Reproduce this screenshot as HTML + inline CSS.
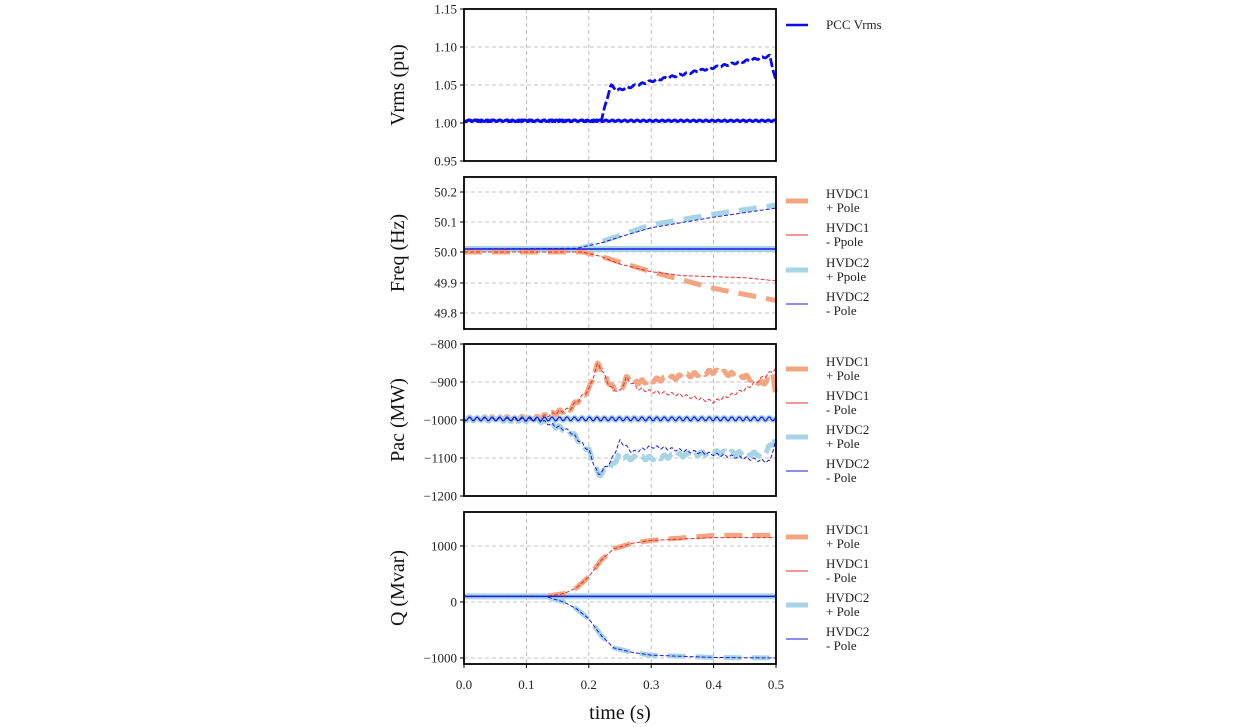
<!DOCTYPE html>
<html><head><meta charset="utf-8"><style>
html,body{margin:0;padding:0;background:#fff}
svg{display:block;font-family:"Liberation Serif",serif}
</style></head><body>
<svg id="s" width="1260" height="727" viewBox="0 0 1260 727" xmlns="http://www.w3.org/2000/svg">
<g id="grid" stroke="#b0b0b0" stroke-width="0.8" stroke-dasharray="4,3" fill="none"></g>
<g id="data" fill="none"></g>
<g id="frames" fill="none" stroke="#000" stroke-width="1.8"></g>
<g id="txt" font-size="13" fill="#222"></g>
<g id="leg"></g>
<g font-size="20" fill="#111">
<text x="620" y="719" text-anchor="middle">time (s)</text>
<text transform="translate(404,85) rotate(-90)" text-anchor="middle">Vrms (pu)</text>
<text transform="translate(404,253) rotate(-90)" text-anchor="middle">Freq (Hz)</text>
<text transform="translate(404,420) rotate(-90)" text-anchor="middle">Pac (MW)</text>
<text transform="translate(404,588) rotate(-90)" text-anchor="middle">Q (Mvar)</text>
</g>
</svg>
<script>
var NS="http://www.w3.org/2000/svg";
function el(p,t,a,tx){var e=document.createElementNS(NS,t);for(var k in a)e.setAttribute(k,a[k]);if(tx!==undefined)e.textContent=tx;document.getElementById(p).appendChild(e);return e;}
var X0=464,X1=776;function X(t){return X0+t*624;}
var panels=[{top:9,bot:161},{top:177,bot:329},{top:344,bot:496},{top:512,bot:664}];
var yt=[[[1.15,9],[1.10,47],[1.05,85],[1.00,123],[0.95,161]],
[[50.2,192],[50.1,222],[50.0,252],[49.9,283],[49.8,313]],
[["\u2212800",344],["\u2212900",382],["\u22121000",420],["\u22121100",458],["\u22121200",496]],
[[1000,546],[0,602],["\u22121000",658]]];
panels.forEach(function(p,i){
 for(var k=1;k<5;k++)el("grid","line",{x1:X(k*0.1),x2:X(k*0.1),y1:p.top,y2:p.bot});
 yt[i].forEach(function(v){var lab=typeof v[0]=="number"&&i<2?v[0].toFixed(i==0?2:1):v[0];
  if(v[1]>p.top+1&&v[1]<p.bot-1)el("grid","line",{x1:X0,x2:X1,y1:v[1],y2:v[1]});
  el("frames","line",{x1:X0-4,x2:X0,y1:v[1],y2:v[1],"stroke-width":1});
  el("txt","text",{x:X0-7,y:v[1]+4.5,"text-anchor":"end"},lab);});
 el("frames","rect",{x:X0,y:p.top,width:X1-X0,height:p.bot-p.top});
});
for(var k=0;k<=5;k++){el("frames","line",{x1:X(k*0.1),x2:X(k*0.1),y1:664,y2:668,"stroke-width":1});el("txt","text",{x:X(k*0.1),y:689,"text-anchor":"middle"},(k/10).toFixed(1));}
function interp(pts,t){for(var i=1;i<pts.length;i++){if(t<=pts[i][0]){var a=pts[i-1],b=pts[i],f=(t-a[0])/(b[0]-a[0]);return a[1]+(b[1]-a[1])*f;}}return pts[pts.length-1][1];}
function path(pts,fy,wig,per){var d="";for(var t=0;t<=0.5001;t+=0.002){var v=fy(interp(pts,t))+(wig?wig*Math.sin(t/(per||0.012)*6.283):0);d+=(d?"L":"M")+X(t).toFixed(1)+","+v.toFixed(1);}return d;}
function line(d,c,w,dash,op){var a={d:d,stroke:c,"stroke-width":w,"stroke-linejoin":"round"};if(dash)a["stroke-dasharray"]=dash;if(op)a.opacity=op;el("data","path",a);}
var BL="#1a1ae6",OR="#f4a582",RD="#e03030",LB="#a8d5e5";
var y1=function(v){return 123-(v-1)*760;};
line(path([[0,1.003],[0.5,1.003]],y1,0.8,0.01),"#0a0aee",3);
line(path([[0,1.003],[0.22,1.003],[0.235,1.05],[0.245,1.043],[0.26,1.046],[0.3,1.055],[0.4,1.073],[0.49,1.088],[0.5,1.055]],y1,1,0.012),"#0a0aee",2.8,"9,3");
var y2=function(v){return 252-(v-50)*303;};
line(path([[0,50.01],[0.5,50.01]],y2),LB,6);
line(path([[0,50.01],[0.18,50.01],[0.2,50.02],[0.25,50.055],[0.3,50.09],[0.4,50.125],[0.5,50.155]],y2),LB,5,"18,10");
line(path([[0,50.0],[0.19,50.0],[0.22,49.985],[0.3,49.935],[0.4,49.88],[0.5,49.84]],y2),OR,5,"18,10");
line(path([[0,50.01],[0.5,50.01]],y2),BL,1.5);
line(path([[0,50.01],[0.18,50.012],[0.22,50.03],[0.25,50.05],[0.3,50.08],[0.4,50.115],[0.5,50.145]],y2),BL,1,"4,2");
line(path([[0,50.0],[0.19,50.0],[0.22,49.985],[0.25,49.96],[0.3,49.935],[0.35,49.922],[0.45,49.915],[0.5,49.905]],y2),RD,1,"4,2");
var y3=function(v){return 344-(v+800)*0.38;};
line(path([[0,-997],[0.5,-997]],y3,1.5,0.012),LB,5);
var oP=[[0,-997],[0.12,-995],[0.17,-970],[0.2,-920],[0.215,-850],[0.235,-910],[0.25,-925],[0.26,-890],[0.28,-900],[0.33,-890],[0.4,-872],[0.45,-885],[0.48,-905],[0.495,-870],[0.5,-950]];
line(path(oP,y3,2),OR,5,"18,8");
var rP=[[0,-997],[0.12,-995],[0.17,-970],[0.2,-920],[0.215,-850],[0.235,-915],[0.25,-925],[0.26,-890],[0.28,-918],[0.3,-925],[0.35,-935],[0.4,-952],[0.45,-920],[0.5,-865]];
line(path(rP,y3,1.5),RD,1,"4,2");
var lP=[[0,-997],[0.12,-1000],[0.17,-1030],[0.2,-1080],[0.215,-1145],[0.235,-1125],[0.25,-1090],[0.26,-1100],[0.3,-1100],[0.4,-1085],[0.48,-1090],[0.5,-1050]];
line(path(lP,y3,2),LB,5,"18,8");
var bP=[[0,-997],[0.12,-1000],[0.17,-1030],[0.2,-1080],[0.215,-1145],[0.235,-1110],[0.25,-1055],[0.27,-1085],[0.3,-1070],[0.4,-1090],[0.45,-1100],[0.49,-1110],[0.5,-1050]];
line(path(bP,y3,1.5),BL,1,"4,2");
line(path([[0,-997],[0.5,-997]],y3,2,0.012),BL,1.2);
var y4=function(v){return 602-v*0.056;};
line(path([[0,100],[0.5,100]],y4),LB,6);
var qr=[[0,100],[0.13,100],[0.16,150],[0.18,250],[0.2,450],[0.22,750],[0.24,950],[0.27,1050],[0.3,1100],[0.4,1150],[0.5,1150]];
var qb=[[0,100],[0.13,100],[0.16,0],[0.18,-120],[0.2,-300],[0.22,-600],[0.24,-820],[0.27,-900],[0.3,-950],[0.4,-990],[0.5,-1000]];
line(path(qr.map(function(p){return [p[0],p[1]+(p[0]>0.3?40:0)];}),y4),OR,5,"18,10");
line(path(qb,y4),LB,5,"18,10");
line(path(qr,y4),RD,1,"4,2");
line(path(qb,y4),BL,1,"4,2");
line(path([[0,100],[0.5,100]],y4),BL,1.5);
el("leg","line",{x1:786,x2:808,y1:25,y2:25,stroke:"#0a0aee","stroke-width":2.5});
el("leg","text",{x:826,y:29,"font-size":13,fill:"#222"},"PCC Vrms");
var items=[[OR,5,"HVDC1","+ Pole"],[RD,1,"HVDC1","- Ppole"],[LB,5,"HVDC2","+ Ppole"],[BL,1,"HVDC2","- Pole"]];
var bases=[[201,235,270,304],[369,403,437,471],[537,571,605,639]];
bases.forEach(function(b,pi){b.forEach(function(y,i){var it=items[i].slice();
 if(pi>0){it[3]=["+ Pole","- Pole","+ Pole","- Pole"][i];}
 el("leg","line",{x1:786,x2:808,y1:y,y2:y,stroke:it[0],"stroke-width":it[1]});
 el("leg","text",{x:826,y:y-3,"font-size":13,fill:"#222"},it[2]);
 el("leg","text",{x:826,y:y+11,"font-size":13,fill:"#222"},it[3]);});});
</script>
</body></html>
